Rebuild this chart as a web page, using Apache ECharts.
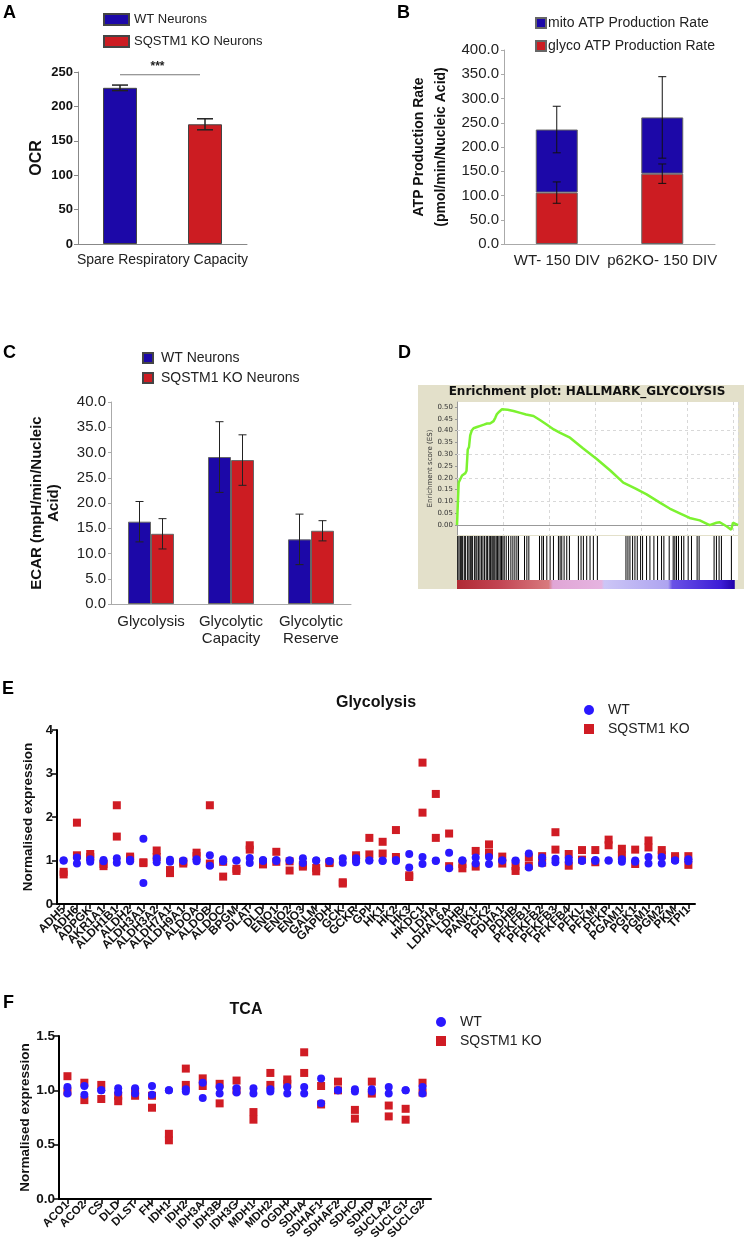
<!DOCTYPE html>
<html><head><meta charset="utf-8">
<script src="https://cdn.jsdelivr.net/npm/echarts@6/dist/echarts.min.js"></script>
<style>html,body{margin:0;padding:0;background:#fff}#c{width:744px;height:1252px}</style>
</head><body><div id="c"></div>
<script>
// ---------- Panel A ----------
const aCategories = ['Spare Respiratory Capacity'];
const aWT = [227]; const aWTErr = [4];
const aKO = [174]; const aKOErr = [8];
const aSigY = 246;
// ---------- Panel B ----------
const bCategories = ['WT- 150 DIV', 'p62KO- 150 DIV'];
const bGlyco = [106, 145]; const bGlycoErr = [22, 20];
const bMito = [130, 116]; const bTotalErr = [48, 84];
// ---------- Panel C ----------
const cCategories = ['Glycolysis', 'Glycolytic\nCapacity', 'Glycolytic\nReserve'];
const cWT = [16.3, 29.1, 12.8]; const cWTErr = [4.0, 7.0, 5.0];
const cKO = [13.9, 28.5, 14.5]; const cKOErr = [3.0, 5.0, 2.0];
// ---------- Panel D ----------
const dTicks = [0, 0.05, 0.10, 0.15, 0.20, 0.25, 0.30, 0.35, 0.40, 0.45, 0.50];
const dGridY = [0.1, 0.2, 0.3, 0.4];
const dRank = [0,60,110,200,330,450,550,620,700,780,860,960,1080,1300,1520,1750,1960,2150,2380,2500,2600,2750,2930,3300,3680,4120,4500,4980,5400,5860,6300,6720,7360,8200,9100,10000,10830,11600,12350,13210,13850,14510,15150,15810,16450,16900,17110,17550,17860,17970,18300];
const dES = [0,0.10,0.18,0.175,0.21,0.215,0.22,0.23,0.32,0.33,0.38,0.40,0.41,0.415,0.42,0.425,0.43,0.43,0.44,0.455,0.47,0.48,0.49,0.488,0.483,0.475,0.468,0.462,0.445,0.425,0.405,0.39,0.37,0.325,0.28,0.23,0.18,0.155,0.13,0.095,0.07,0.05,0.03,0.02,0.0,0.01,0.012,-0.005,-0.02,0.01,0.0];
const dHits = [43,130,217,282,368,477,563,693,780,866,931,1018,1148,1235,1300,1408,1495,1603,1690,1798,1906,1993,2101,2188,2274,2339,2404,2469,2556,2643,2729,2816,2902,2989,3076,3206,3357,3509,3639,3769,3899,4007,4397,4549,4679,5372,5523,5632,5848,6065,6281,6606,6715,6823,6975,7148,7321,7906,8079,8231,8447,8664,8881,9141,11003,11133,11263,11436,11588,11740,11957,12086,12346,12563,12823,13061,13321,13473,13819,14079,14187,14296,14426,14621,14772,15054,15270,15638,15768,16743,16895,17068,17220,17870];
const dRankMax = 18300;
const dColorBarEnd = 18090;
// ---------- Panel E ----------
const eGenes = ['ADH5','ADH6','ADPGK','AKR1A1','ALDH1B1','ALDH2','ALDH3A1','ALDH3A2','ALDH7A1','ALDH9A1','ALDOA','ALDOB','ALDOC','BPGM','DLAT','DLD','ENO1','ENO2','ENO3','GALM','GAPDH','GCK','GCKR','GPI','HK1','HK2','HK3','HKDC1','LDHA','LDHAL6A','LDHB','PANK1','PCK2','PDHA1','PDHB','PFKFB1','PFKFB2','PFKFB3','PFKFB4','PFKL','PFKM','PFKP','PGAM1','PGK1','PGM1','PGM2','PKM','TPI1'];
const eWT = [[1.0,1.0],[1.07,0.93],[1.03,0.97],[1.01,0.98],[1.05,0.95],[1.02,0.98],[1.5,0.48],[1.05,0.96],[1.02,0.97],[1.0,0.99],[1.03,0.98],[1.12,0.88],[1.03,0.98],[1.0,1.0],[1.06,0.94],[1.01,0.99],[1.01,0.99],[1.0,1.0],[1.05,0.94],[1.0,1.0],[0.99,0.98],[1.05,0.95],[1.05,0.96],[1.0,1.0],[1.0,0.99],[1.01,0.99],[1.15,0.84],[1.08,0.92],[1.0,0.99],[1.18,0.82],[1.0,1.0],[1.07,0.93],[1.08,0.92],[1.0,1.0],[1.0,0.99],[1.16,0.84],[1.07,0.93],[1.04,0.96],[1.04,0.97],[1.0,0.99],[1.01,0.99],[1.0,1.0],[1.03,0.97],[1.0,0.97],[1.08,0.93],[1.08,0.93],[1.0,1.0],[1.03,0.98]];
const eKO = [[0.74,0.68],[1.87,1.12],[1.15,1.08],[0.92,0.87],[2.27,1.55],[1.09,1.05],[0.96,0.94],[1.23,1.08],[0.78,0.71],[0.97,0.93],[1.18,1.1],[2.27,0.93],[0.97,0.63],[0.81,0.76],[1.35,1.25],[0.96,0.91],[1.2,0.97],[0.98,0.77],[0.9,0.86],[0.83,0.75],[0.96,0.94],[0.5,0.47],[1.12,1.05],[1.52,1.14],[1.43,1.16],[1.7,1.08],[0.66,0.62],[3.25,2.1],[2.53,1.52],[1.62,0.87],[0.92,0.82],[1.22,0.86],[1.37,1.18],[1.09,0.93],[0.87,0.76],[1.07,0.88],[1.1,0.95],[1.65,1.25],[1.15,0.88],[1.24,1.02],[1.24,0.96],[1.48,1.35],[1.27,1.12],[1.25,0.92],[1.46,1.3],[1.24,1.12],[1.1,1.05],[1.1,0.9]];
// ---------- Panel F ----------
const fGenes = ['ACO1','ACO2','CS','DLD','DLST','FH','IDH1','IDH2','IDH3A','IDH3B','IDH3G','MDH1','MDH2','OGDH','SDHA','SDHAF1','SDHAF2','SDHC','SDHD','SUCLA2','SUCLG1','SUCLG2'];
const fWT = [[1.03,0.97],[1.04,0.96],[1.0,1.0],[1.02,0.98],[1.02,0.97],[1.04,0.96],[1.0,1.0],[1.01,0.99],[1.07,0.93],[1.03,0.97],[1.02,0.98],[1.02,0.97],[1.01,0.99],[1.03,0.97],[1.03,0.97],[1.11,0.88],[1.0,1.0],[1.01,0.99],[1.01,0.99],[1.03,0.97],[1.0,1.0],[1.03,0.97]];
const fKO = [[1.13,0.99],[1.07,0.91],[1.05,0.92],[0.95,0.9],[0.99,0.95],[0.95,0.84],[0.6,0.54],[1.2,1.05],[1.11,1.04],[1.06,0.88],[1.09,1.0],[0.8,0.73],[1.16,1.05],[1.1,1.06],[1.35,1.16],[1.04,0.87],[1.08,1.0],[0.82,0.74],[1.08,0.97],[0.86,0.76],[0.83,0.73],[1.07,0.98]];

// ---------- styling ----------
const FA = '"Liberation Sans", Arial, sans-serif';
const FD = '"DejaVu Sans", sans-serif';
const BLUE_BAR = '#1c08a8', RED_BAR = '#cc1c22', BLUE_DOT = '#2a18ff', RED_DOT = '#d01c24';
const A_BAR_W = 34, A_BAR_GAP = 51;
const C_BAR_W = 23;

function errSeries(xi, yi, means, errs, offset, cap, color, lw) {
  return {
    type: 'custom', xAxisIndex: xi, yAxisIndex: yi, z: 10, silent: true,
    encode: {x: 0, y: 1},
    data: means.map((m, i) => [i, m, errs[i]]),
    renderItem(params, api) {
      const x = api.value(0), m = api.value(1), e = api.value(2);
      const hi = api.coord([x, m + e]), lo = api.coord([x, m - e]);
      const cx = hi[0] + offset;
      const st = {stroke: color, lineWidth: lw};
      return {type: 'group', children: [
        {type: 'line', shape: {x1: cx, y1: hi[1], x2: cx, y2: lo[1]}, style: st},
        {type: 'line', shape: {x1: cx - cap / 2, y1: hi[1], x2: cx + cap / 2, y2: hi[1]}, style: st},
        {type: 'line', shape: {x1: cx - cap / 2, y1: lo[1], x2: cx + cap / 2, y2: lo[1]}, style: st}
      ]};
    }
  };
}
function pairs(arr) { return arr.flatMap((vals, i) => vals.map(v => [i, v])); }

const aOff = (A_BAR_W + A_BAR_GAP) / 2;
const bTotal = bGlyco.map((g, i) => g + bMito[i]);

const catAxisBase = (gi, data, extra) => Object.assign({
  type: 'category', gridIndex: gi, data: data,
  axisTick: {show: false}, splitLine: {show: false}
}, extra);

const option = {
  animation: false,
  backgroundColor: '#fff',
  grid: [
    {left: 78, top: 72, width: 169, height: 172, outerBoundsMode: 'none'},
    {left: 504, top: 50, width: 211, height: 194, outerBoundsMode: 'none'},
    {left: 111, top: 402, width: 240, height: 202, outerBoundsMode: 'none'},
    {left: 457, top: 402, width: 281, height: 133, show: true, backgroundColor: '#fff', borderWidth: 0, outerBoundsMode: 'none'},
    {left: 457, top: 536, width: 281, height: 44, show: true, backgroundColor: '#fff', borderWidth: 0, outerBoundsMode: 'none'},
    {left: 457, top: 580, width: 281, height: 9, outerBoundsMode: 'none'},
    {left: 57, top: 730, width: 638, height: 174, outerBoundsMode: 'none'},
    {left: 59, top: 1036, width: 372, height: 163, outerBoundsMode: 'none'}
  ],
  xAxis: [
    catAxisBase(0, aCategories, {axisLine: {lineStyle: {color: '#888', width: 1}}, axisLabel: {interval: 0, fontSize: 14, color: '#222', margin: 9, fontFamily: FA}}),
    catAxisBase(1, bCategories, {axisLine: {lineStyle: {color: '#aaa', width: 1}}, axisLabel: {interval: 0, fontSize: 15, color: '#222', margin: 9, fontFamily: FA}}),
    catAxisBase(2, cCategories, {axisLine: {lineStyle: {color: '#aaa', width: 1}}, axisLabel: {interval: 0, fontSize: 15, color: '#222', margin: 9, lineHeight: 17, fontFamily: FA}}),
    {type: 'value', gridIndex: 3, min: 0, max: dRankMax, interval: 3000, axisLine: {show: false}, axisTick: {show: false}, axisLabel: {show: false},
      splitLine: {show: true, lineStyle: {type: [3, 3], color: '#d8d8d8', width: 1}}},
    {type: 'value', gridIndex: 4, min: 0, max: dRankMax, axisLine: {show: false}, axisTick: {show: false}, axisLabel: {show: false}, splitLine: {show: false}},
    {type: 'value', gridIndex: 5, min: 0, max: dRankMax, axisLine: {show: false}, axisTick: {show: false}, axisLabel: {show: false}, splitLine: {show: false}},
    catAxisBase(6, eGenes, {axisLine: {lineStyle: {color: '#000', width: 2}},
      axisTick: {show: true, alignWithLabel: true, interval: 0, length: 5, lineStyle: {color: '#000', width: 1.5}},
      axisLabel: {interval: 0, rotate: 45, fontSize: 12, fontWeight: 'bold', color: '#111', margin: 4, fontFamily: FA}}),
    catAxisBase(7, fGenes, {axisLine: {lineStyle: {color: '#000', width: 2}},
      axisTick: {show: true, alignWithLabel: true, interval: 0, length: 5, lineStyle: {color: '#000', width: 1.5}},
      axisLabel: {interval: 0, rotate: 45, fontSize: 11.5, fontWeight: 'bold', color: '#111', margin: 4, fontFamily: FA}})
  ],
  yAxis: [
    {type: 'value', gridIndex: 0, min: 0, max: 250, interval: 50, splitLine: {show: false},
      axisLine: {show: true, lineStyle: {color: '#888'}}, axisTick: {show: true, length: 4, lineStyle: {color: '#888'}},
      axisLabel: {fontSize: 13, fontWeight: 'bold', color: '#111', margin: 5, fontFamily: FA},
      name: 'OCR', nameLocation: 'middle', nameGap: 33, nameTextStyle: {fontSize: 16, fontWeight: 'bold', color: '#111', fontFamily: FA}},
    {type: 'value', gridIndex: 1, min: 0, max: 400, interval: 50, splitLine: {show: false},
      axisLine: {show: true, lineStyle: {color: '#aaa'}}, axisTick: {show: true, length: 3, lineStyle: {color: '#aaa'}},
      axisLabel: {fontSize: 15, color: '#222', margin: 5, fontFamily: FA, formatter: v => v.toFixed(1)},
      name: 'ATP Production Rate\n(pmol/min/Nucleic Acid)', nameLocation: 'middle', nameGap: 52,
      nameTextStyle: {fontSize: 14, fontWeight: 'bold', color: '#111', lineHeight: 22, fontFamily: FA}},
    {type: 'value', gridIndex: 2, min: 0, max: 40, interval: 5, splitLine: {show: false},
      axisLine: {show: true, lineStyle: {color: '#aaa'}}, axisTick: {show: true, length: 3, lineStyle: {color: '#aaa'}},
      axisLabel: {fontSize: 15, color: '#222', margin: 5, fontFamily: FA, formatter: v => v.toFixed(1)},
      name: 'ECAR (mpH/min/Nucleic\nAcid)', nameLocation: 'middle', nameGap: 49,
      nameTextStyle: {fontSize: 15, fontWeight: 'bold', color: '#111', lineHeight: 17, fontFamily: FA}},
    {type: 'value', gridIndex: 3, min: -0.042, max: 0.521, splitLine: {show: false},
      axisLine: {show: true, lineStyle: {color: '#999'}},
      axisTick: {show: true, length: 2, customValues: dTicks, lineStyle: {color: '#999'}},
      axisLabel: {customValues: dTicks, fontSize: 7, color: '#333', margin: 4, fontFamily: FD, formatter: v => v.toFixed(2)},
      name: 'Enrichment score (ES)', nameLocation: 'middle', nameGap: 22, nameTextStyle: {fontSize: 7, color: '#333', fontFamily: FD}},
    {type: 'value', gridIndex: 4, min: 0, max: 1, show: false},
    {type: 'value', gridIndex: 5, min: 0, max: 1, show: false},
    {type: 'value', gridIndex: 6, min: 0, max: 4, interval: 1, splitLine: {show: false},
      axisLine: {show: true, lineStyle: {color: '#000', width: 2}}, axisTick: {show: true, length: 5, lineStyle: {color: '#000', width: 1.5}},
      axisLabel: {fontSize: 13, fontWeight: 'bold', color: '#111', margin: 4, fontFamily: FA},
      name: 'Normalised expression', nameLocation: 'middle', nameGap: 22, nameTextStyle: {fontSize: 13.5, fontWeight: 'bold', color: '#111', fontFamily: FA}},
    {type: 'value', gridIndex: 7, min: 0, max: 1.5, interval: 0.5, splitLine: {show: false},
      axisLine: {show: true, lineStyle: {color: '#000', width: 2}}, axisTick: {show: true, length: 5, lineStyle: {color: '#000', width: 1.5}},
      axisLabel: {fontSize: 13.5, fontWeight: 'bold', color: '#111', margin: 4, fontFamily: FA, formatter: v => v.toFixed(1)},
      name: 'Normalised expression', nameLocation: 'middle', nameGap: 22, nameTextStyle: {fontSize: 13.5, fontWeight: 'bold', color: '#111', fontFamily: FA}}
  ],
  legend: [
    {data: ['WT Neurons', 'SQSTM1 KO Neurons'], left: 103, top: 13, orient: 'vertical', itemWidth: 25, itemHeight: 11, itemGap: 9,
      icon: 'rect', padding: 0, selectedMode: false, textStyle: {fontSize: 13, color: '#222', fontFamily: FA}},
    {data: ['mito ATP Production Rate', 'glyco ATP Production Rate'], left: 535, top: 16, orient: 'vertical', itemWidth: 10, itemHeight: 10, itemGap: 9,
      icon: 'rect', padding: 0, selectedMode: false, textStyle: {fontSize: 14, color: '#222', fontFamily: FA, padding: [0, 0, 0, -3]}},
    {data: ['WT Neurons', 'SQSTM1 KO Neurons'], left: 142, top: 351, orient: 'vertical', itemWidth: 10, itemHeight: 10, itemGap: 6,
      icon: 'rect', padding: 0, selectedMode: false, textStyle: {fontSize: 14, color: '#222', fontFamily: FA, padding: [0, 0, 0, 3]}},
    {data: [{name: 'WT', icon: 'circle'}, {name: 'SQSTM1 KO', icon: 'rect'}], left: 584, top: 703, orient: 'vertical', itemWidth: 10, itemHeight: 10, itemGap: 5,
      padding: 0, selectedMode: false, textStyle: {fontSize: 14, color: '#222', fontFamily: FA, padding: [0, 0, 0, 9]}},
    {data: [{name: 'WT', icon: 'circle'}, {name: 'SQSTM1 KO', icon: 'rect'}], left: 436, top: 1015, orient: 'vertical', itemWidth: 10, itemHeight: 10, itemGap: 5,
      padding: 0, selectedMode: false, textStyle: {fontSize: 14, color: '#222', fontFamily: FA, padding: [0, 0, 0, 9]}}
  ],
  graphic: [
    {type: 'rect', z: -10, shape: {x: 418, y: 385, width: 326, height: 204}, style: {fill: '#e3e0ca'}, silent: true},
    {type: 'text', x: 3, y: 4, style: {text: 'A', font: 'bold 18px "Liberation Sans"', fill: '#000'}},
    {type: 'text', x: 397, y: 4, style: {text: 'B', font: 'bold 18px "Liberation Sans"', fill: '#000'}},
    {type: 'text', x: 3, y: 344, style: {text: 'C', font: 'bold 18px "Liberation Sans"', fill: '#000'}},
    {type: 'text', x: 398, y: 344, style: {text: 'D', font: 'bold 18px "Liberation Sans"', fill: '#000'}},
    {type: 'text', x: 2, y: 680, style: {text: 'E', font: 'bold 18px "Liberation Sans"', fill: '#000'}},
    {type: 'text', x: 3, y: 994, style: {text: 'F', font: 'bold 18px "Liberation Sans"', fill: '#000'}},
    {type: 'text', x: 376, y: 695, style: {text: 'Glycolysis', font: 'bold 16px "Liberation Sans"', fill: '#111', textAlign: 'center'}},
    {type: 'text', x: 246, y: 1002, style: {text: 'TCA', font: 'bold 16px "Liberation Sans"', fill: '#111', textAlign: 'center'}},
    {type: 'text', x: 587, y: 386, style: {text: 'Enrichment plot: HALLMARK_GLYCOLYSIS', font: 'bold 12px "DejaVu Sans"', fill: '#111', textAlign: 'center'}}
  ],
  series: [
    // A
    {name: 'WT Neurons', type: 'bar', xAxisIndex: 0, yAxisIndex: 0, data: aWT, barWidth: A_BAR_W, barGap: (A_BAR_GAP / A_BAR_W * 100) + '%',
      itemStyle: {color: BLUE_BAR, borderColor: '#444', borderWidth: 1}},
    {name: 'SQSTM1 KO Neurons', type: 'bar', xAxisIndex: 0, yAxisIndex: 0, data: aKO, barWidth: A_BAR_W,
      itemStyle: {color: RED_BAR, borderColor: '#444', borderWidth: 1}},
    errSeries(0, 0, aWT, aWTErr, -aOff, 16, '#222', 1.5),
    errSeries(0, 0, aKO, aKOErr, aOff, 16, '#222', 1.5),
    {type: 'custom', xAxisIndex: 0, yAxisIndex: 0, silent: true, z: 10, data: [[0, aSigY]], encode: {x: 0, y: 1},
      renderItem(params, api) {
        const p = api.coord([api.value(0), api.value(1)]);
        return {type: 'group', children: [
          {type: 'line', shape: {x1: p[0] - aOff, y1: p[1], x2: p[0] + aOff - 5, y2: p[1]}, style: {stroke: '#777', lineWidth: 1}},
          {type: 'text', x: p[0] - 5, y: p[1] - 2, style: {text: '***', font: 'bold 12px "Liberation Sans"', fill: '#222', textAlign: 'center', textVerticalAlign: 'bottom'}}
        ]};
      }},
    // B
    {name: 'glyco ATP Production Rate', type: 'bar', stack: 'b', xAxisIndex: 1, yAxisIndex: 1, data: bGlyco, barWidth: 42,
      itemStyle: {color: RED_BAR, borderColor: '#666', borderWidth: 1}},
    {name: 'mito ATP Production Rate', type: 'bar', stack: 'b', xAxisIndex: 1, yAxisIndex: 1, data: bMito, barWidth: 42,
      itemStyle: {color: BLUE_BAR, borderColor: '#666', borderWidth: 1}},
    errSeries(1, 1, bGlyco, bGlycoErr, 0, 8, '#111', 1),
    errSeries(1, 1, bTotal, bTotalErr, 0, 8, '#111', 1),
    // C
    {name: 'WT Neurons', type: 'bar', xAxisIndex: 2, yAxisIndex: 2, data: cWT, barWidth: C_BAR_W, barGap: '0%',
      itemStyle: {color: BLUE_BAR, borderColor: '#666', borderWidth: 1}},
    {name: 'SQSTM1 KO Neurons', type: 'bar', xAxisIndex: 2, yAxisIndex: 2, data: cKO, barWidth: C_BAR_W,
      itemStyle: {color: RED_BAR, borderColor: '#666', borderWidth: 1}},
    errSeries(2, 2, cWT, cWTErr, -C_BAR_W / 2, 8, '#222', 1),
    errSeries(2, 2, cKO, cKOErr, C_BAR_W / 2, 8, '#222', 1),
    // D
    {type: 'line', xAxisIndex: 3, yAxisIndex: 3, data: dRank.map((r, i) => [r, dES[i]]), showSymbol: false, silent: true,
      lineStyle: {color: '#7cf230', width: 2.5}, z: 5,
      markLine: {silent: true, symbol: 'none', label: {show: false},
        data: [{yAxis: 0, lineStyle: {color: '#999', width: 1, type: 'solid'}}].concat(
          dGridY.map(v => ({yAxis: v, lineStyle: {color: '#d8d8d8', width: 1, type: [3, 3]}})))}},
    {type: 'custom', xAxisIndex: 4, yAxisIndex: 4, silent: true, data: dHits.map(h => [h]), encode: {x: 0},
      renderItem(params, api) {
        const a = api.coord([api.value(0), 0]), b = api.coord([api.value(0), 1]);
        return {type: 'line', shape: {x1: a[0], y1: a[1], x2: b[0], y2: b[1]}, style: {stroke: '#000', lineWidth: 1}};
      }},
    {type: 'custom', xAxisIndex: 5, yAxisIndex: 5, silent: true, data: [[0, dColorBarEnd]], encode: {x: [0, 1]},
      renderItem(params, api) {
        const a = api.coord([api.value(0), 1]), b = api.coord([api.value(1), 0]);
        return {type: 'rect', shape: {x: a[0], y: a[1], width: b[0] - a[0], height: b[1] - a[1]},
          style: {fill: new echarts.graphic.LinearGradient(0, 0, 1, 0, [
            {offset: 0, color: '#b02a34'}, {offset: 0.15, color: '#c24452'}, {offset: 0.33, color: '#d87a7e'},
            {offset: 0.345, color: '#e0a6d6'}, {offset: 0.52, color: '#e6b4e0'}, {offset: 0.53, color: '#ccc6f6'},
            {offset: 0.76, color: '#aea4f0'}, {offset: 0.775, color: '#6a52e6'}, {offset: 0.95, color: '#3c1cd6'}, {offset: 1, color: '#2000a8'}])}};
      }},
    // E
    {name: 'SQSTM1 KO', type: 'scatter', xAxisIndex: 6, yAxisIndex: 6, data: pairs(eKO), symbol: 'rect', symbolSize: 8, itemStyle: {color: RED_DOT, opacity: 1}},
    {name: 'WT', type: 'scatter', xAxisIndex: 6, yAxisIndex: 6, data: pairs(eWT), symbol: 'circle', symbolSize: 8, itemStyle: {color: BLUE_DOT, opacity: 1}},
    // F
    {name: 'SQSTM1 KO', type: 'scatter', xAxisIndex: 7, yAxisIndex: 7, data: pairs(fKO), symbol: 'rect', symbolSize: 8, itemStyle: {color: RED_DOT, opacity: 1}},
    {name: 'WT', type: 'scatter', xAxisIndex: 7, yAxisIndex: 7, data: pairs(fWT), symbol: 'circle', symbolSize: 8, itemStyle: {color: BLUE_DOT, opacity: 1}}
  ]
};
const chart = echarts.init(document.getElementById('c'));
chart.setOption(option);
</script>
</body></html>
